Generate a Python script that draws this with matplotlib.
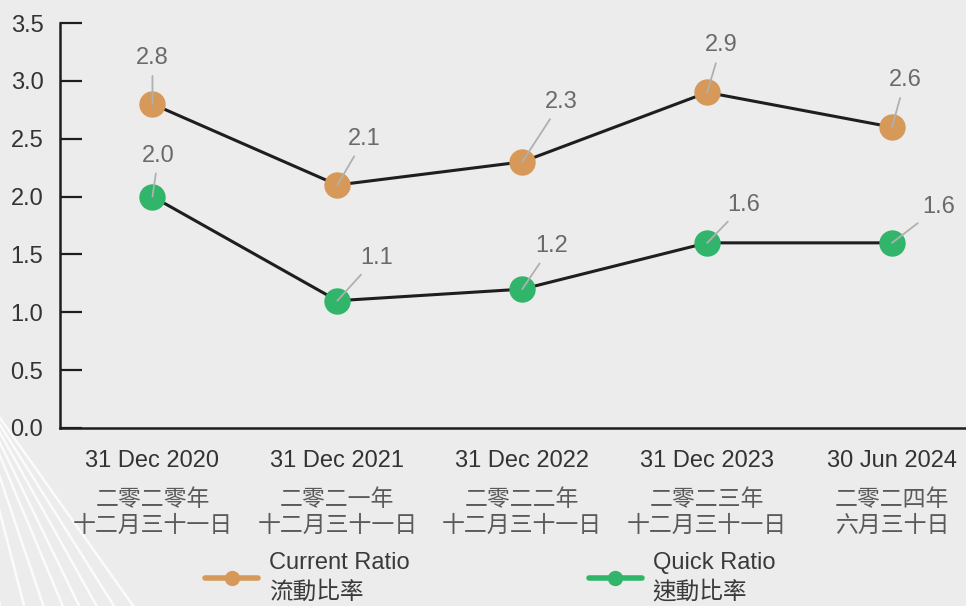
import numpy as np
import matplotlib.pyplot as plt
from matplotlib.lines import Line2D

# dados
periodos_en = ['31 Dec 2020', '31 Dec 2021', '31 Dec 2022', '31 Dec 2023', '30 Jun 2024']
periodos_zh = ['二零二零年\n十二月三十一日', '二零二一年\n十二月三十一日', '二零二二年\n十二月三十一日',
               '二零二三年\n十二月三十一日', '二零二四年\n六月三十日']
current_ratio = [2.8, 2.1, 2.3, 2.9, 2.6]
quick_ratio = [2.0, 1.1, 1.2, 1.6, 1.6]

# deslocamento dos rótulos (pixels)
off_current = [(0, 46), (27, 46), (39, 60), (14, 47), (13, 47)]
off_quick = [(6, 41), (39, 43), (29, 43), (37, 38), (47, 36)]

fonte = ['Liberation Sans', 'Noto Sans CJK TC', 'DejaVu Sans']
plt.rcParams['font.family'] = fonte

cor_fundo = '#ececec'
laranja = '#d6995a'
verde = '#31b56b'

fig = plt.figure(figsize=(9.66, 6.06), dpi=100, facecolor=cor_fundo)

# linhas decorativas no canto inferior esquerdo
for xb in [0.0, 0.025, 0.045, 0.065, 0.082, 0.1, 0.118, 0.138]:
    fig.add_artist(Line2D([-0.04, xb], [0.40, 0.0], transform=fig.transFigure,
                          color='white', lw=1.8, alpha=0.8, zorder=0))

ax = fig.add_axes([60 / 966, 1 - 428 / 606, 1 - 60 / 966, (428 - 23) / 606])
ax.set_facecolor('none')

x = np.arange(len(periodos_en))
ax.plot(x, current_ratio, color='#1e1e1e', lw=2.2, marker='o', ms=18,
        mfc=laranja, mec=laranja, zorder=2)
ax.plot(x, quick_ratio, color='#1e1e1e', lw=2.2, marker='o', ms=18,
        mfc=verde, mec=verde, zorder=2)

for serie, offs in [(current_ratio, off_current), (quick_ratio, off_quick)]:
    for i, v in enumerate(serie):
        ax.annotate(f'{v:.1f}', (x[i], v), xytext=offs[i], textcoords='offset pixels',
                    ha='center', va='center', fontsize=17, color='#6a6a6a',
                    arrowprops=dict(arrowstyle='-', color='#b0b0b0', lw=1.3,
                                    shrinkA=3, shrinkB=0), zorder=3)

ax.set_xlim(-0.5, 4.4)
ax.set_ylim(0, 3.5)
ax.set_yticks(np.arange(0, 3.51, 0.5))
ax.set_yticklabels([f'{t:.1f}' for t in np.arange(0, 3.51, 0.5)])
ax.tick_params(axis='y', direction='in', length=16, width=1.6, color='#1e1e1e',
               labelsize=17, labelcolor='#333333', pad=12)
ax.set_xticks([])
for s in ['top', 'right']:
    ax.spines[s].set_visible(False)
for s in ['left', 'bottom']:
    ax.spines[s].set_linewidth(1.8)
    ax.spines[s].set_color('#1e1e1e')

trans = ax.get_xaxis_transform()
for i in range(len(periodos_en)):
    ax.text(x[i], -0.082, periodos_en[i], transform=trans, ha='center', va='center',
            fontsize=17, color='#333333')
    ax.text(x[i], -0.208, periodos_zh[i], transform=trans, ha='center', va='center',
            fontsize=16.5, color='#5a5a5a', linespacing=1.15, fontweight='light')

h1 = Line2D([], [], color=laranja, lw=4, marker='o', ms=10, solid_capstyle='round')
h2 = Line2D([], [], color=verde, lw=4, marker='o', ms=10, solid_capstyle='round')
leg = fig.legend([h1, h2], ['Current Ratio\n流動比率', 'Quick Ratio\n速動比率'],
                 loc='center left', bbox_to_anchor=(205 / 966, 1 - 578 / 606),
                 ncol=2, frameon=False, fontsize=17, handlelength=2.25,
                 handletextpad=0.45, columnspacing=7.6, borderpad=0,
                 borderaxespad=0)
for t in leg.get_texts():
    t.set_color('#3a3a3a')
    t.set_linespacing(1.4)

fig.savefig('out.png', dpi=100, facecolor=cor_fundo)
